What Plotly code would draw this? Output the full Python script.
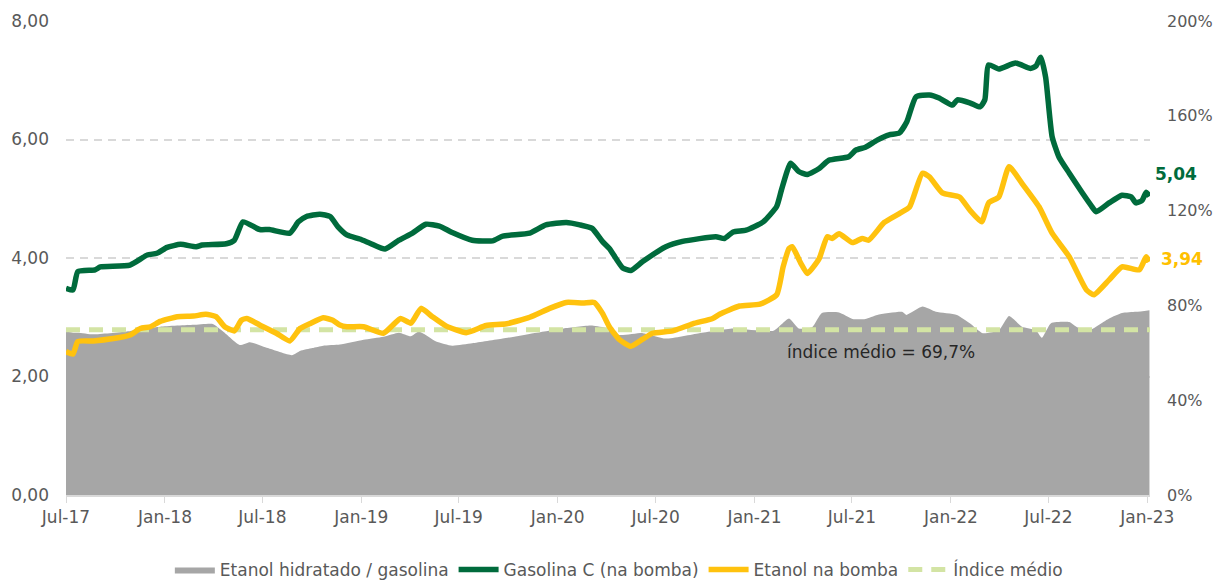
import plotly.graph_objects as go

# ---------------- data ----------------
gas_dates = ["2017-07-01","2017-07-14","2017-07-23","2017-08-24","2017-09-03","2017-10-28","2017-11-29",
 "2017-12-17","2018-01-05","2018-01-30","2018-02-28","2018-03-11","2018-04-25","2018-05-10","2018-05-26",
 "2018-06-26","2018-07-14","2018-08-21","2018-09-06","2018-09-21","2018-10-16","2018-11-04","2018-11-19",
 "2018-12-05","2018-12-29","2019-01-17","2019-02-14","2019-03-12","2019-04-06","2019-05-01","2019-05-26",
 "2019-06-19","2019-07-26","2019-09-02","2019-09-21","2019-11-10","2019-12-10","2020-01-17","2020-02-11",
 "2020-03-05","2020-03-24","2020-04-06","2020-05-01","2020-05-16","2020-06-07","2020-07-20","2020-08-20",
 "2020-10-21","2020-11-06","2020-11-22","2020-12-16","2021-01-17","2021-02-11","2021-02-20","2021-03-09",
 "2021-03-24","2021-04-09","2021-05-01","2021-05-19","2021-06-25","2021-07-08","2021-07-26","2021-08-17",
 "2021-09-08","2021-09-27","2021-10-11","2021-10-28","2021-11-22","2021-12-10","2022-01-04","2022-01-13",
 "2022-02-05","2022-02-24","2022-03-05","2022-03-12","2022-03-31","2022-05-01","2022-05-29","2022-06-08",
 "2022-06-17","2022-06-26","2022-07-08","2022-07-21","2022-08-09","2022-09-02","2022-09-19","2022-09-28",
 "2022-10-22","2022-11-15","2022-12-02","2022-12-11","2022-12-22","2022-12-30","2023-01-05"]
gasolina = [3.49,3.46,3.77,3.80,3.85,3.88,4.05,
 4.08,4.18,4.23,4.19,4.22,4.24,4.30,4.61,
 4.48,4.48,4.42,4.61,4.70,4.74,4.70,4.52,
 4.39,4.32,4.25,4.15,4.30,4.42,4.57,4.54,
 4.43,4.30,4.29,4.37,4.42,4.56,4.60,4.56,
 4.50,4.28,4.16,3.83,3.79,3.94,4.19,4.28,
 4.36,4.33,4.44,4.47,4.61,4.87,5.15,5.60,
 5.46,5.41,5.51,5.65,5.71,5.82,5.87,5.99,
 6.08,6.11,6.30,6.72,6.75,6.70,6.58,6.67,
 6.62,6.55,6.67,7.26,7.19,7.29,7.20,7.24,
 7.39,7.05,6.05,5.70,5.43,5.10,4.88,4.78,
 4.93,5.06,5.03,4.93,4.97,5.11,5.04]

eta_dates = ["2017-07-01","2017-07-14","2017-07-23","2017-08-21","2017-09-27","2017-10-28","2017-11-16",
 "2017-12-05","2017-12-23","2018-01-24","2018-02-23","2018-03-18","2018-04-06","2018-04-22","2018-05-10",
 "2018-05-23","2018-06-02","2018-06-26","2018-07-27","2018-08-21","2018-09-09","2018-09-27","2018-10-22",
 "2018-11-09","2018-11-22","2018-12-05","2019-01-05","2019-02-11","2019-03-01","2019-03-15","2019-04-03",
 "2019-04-22","2019-05-13","2019-06-08","2019-07-15","2019-08-21","2019-09-28","2019-11-10","2019-12-17",
 "2020-01-17","2020-02-17","2020-03-09","2020-03-24","2020-04-06","2020-04-25","2020-05-16","2020-06-07",
 "2020-06-25","2020-08-02","2020-09-08","2020-10-15","2020-10-28","2020-12-04","2021-01-11","2021-02-11",
 "2021-02-23","2021-03-06","2021-03-12","2021-03-28","2021-04-09","2021-05-01","2021-05-16","2021-05-25",
 "2021-06-07","2021-07-02","2021-07-20","2021-08-01","2021-08-30","2021-09-27","2021-10-16","2021-11-09",
 "2021-11-22","2021-12-16","2022-01-17","2022-02-05","2022-02-27","2022-03-12","2022-03-31","2022-04-19",
 "2022-05-13","2022-06-14","2022-07-08","2022-08-09","2022-09-10","2022-09-24","2022-10-22","2022-11-15",
 "2022-12-17","2022-12-30","2023-01-05"]
etanol = [2.42,2.38,2.59,2.60,2.64,2.70,2.81,
 2.84,2.93,3.01,3.02,3.05,3.01,2.84,2.77,
 2.95,2.98,2.87,2.73,2.60,2.81,2.89,2.99,
 2.95,2.87,2.84,2.84,2.73,2.87,2.98,2.90,
 3.15,3.01,2.85,2.74,2.86,2.89,3.00,3.15,
 3.25,3.24,3.25,3.07,2.84,2.62,2.51,2.63,
 2.73,2.77,2.89,2.98,3.05,3.19,3.22,3.38,
 3.85,4.16,4.19,3.91,3.74,3.99,4.36,4.33,
 4.41,4.26,4.33,4.30,4.60,4.75,4.86,5.43,
 5.37,5.10,5.03,4.81,4.61,4.93,5.03,5.54,
 5.26,4.86,4.42,4.02,3.46,3.38,3.63,3.85,
 3.80,4.02,3.94]

ratio_dates = ["2017-07-01","2017-07-14","2017-07-23","2017-08-21","2017-10-22","2017-12-23","2018-02-23",
 "2018-03-31","2018-04-19","2018-05-20","2018-06-08","2018-07-11","2018-08-25","2018-09-09","2018-10-02",
 "2018-10-22","2018-11-22","2019-01-05","2019-02-11","2019-03-12","2019-04-03","2019-04-18","2019-05-20",
 "2019-06-19","2019-07-26","2019-09-21","2019-11-23","2020-01-12","2020-03-05","2020-04-02","2020-04-25",
 "2020-06-07","2020-07-20","2020-09-20","2020-11-22","2021-02-05","2021-03-06","2021-03-24","2021-04-18",
 "2021-05-06","2021-06-07","2021-07-02","2021-07-26","2021-08-17","2021-10-02","2021-10-10","2021-11-09",
 "2021-12-04","2022-01-12","2022-02-05","2022-03-01","2022-03-31","2022-04-19","2022-05-13","2022-06-08",
 "2022-06-19","2022-07-06","2022-08-09","2022-08-22","2022-09-15","2022-10-22","2022-11-15","2022-12-11",
 "2023-01-05"]
ratio_pct = [69.0,68.5,68.5,67.8,69.0,71.0,71.8,
 72.2,69.0,63.3,64.5,62.0,59.0,60.8,62.0,
 63.0,63.5,65.5,66.8,68.5,67.0,69.0,64.8,
 63.0,64.0,66.0,68.5,70.3,71.5,70.3,67.5,
 68.3,66.0,68.3,70.3,69.3,74.5,70.3,70.8,
 76.8,77.0,74.3,74.3,76.0,77.3,76.0,79.5,
 77.3,76.0,72.5,68.3,69.5,75.5,71.0,69.5,
 66.3,72.5,73.0,71.0,69.5,74.5,76.8,77.3,
 78.0]

indice_medio = 69.7
x_range = ["2017-07-01", "2023-01-06"]
tick_dates = ["2017-07-01","2018-01-01","2018-07-01","2019-01-01","2019-07-01","2020-01-01",
              "2020-07-01","2021-01-01","2021-07-01","2022-01-01","2022-07-01","2023-01-01"]
left_ticks = [0, 2, 4, 6, 8]
left_text = ["0,00", "2,00", "4,00", "6,00", "8,00"]
right_ticks = [0, 40, 80, 120, 160, 200]
right_text = ["0%", "40%", "80%", "120%", "160%", "200%"]

# ---------------- style ----------------
FONT = "DejaVu Sans"
TXT = "#595959"
GREEN = "#006B3C"
YELLOW = "#FFC20E"
GRAY = "#A6A6A6"
LIGHTGREEN = "#D3E4A4"

fig = go.Figure()

fig.add_trace(go.Scatter(
    x=ratio_dates, y=ratio_pct, name="Etanol hidratado / gasolina",
    mode="lines", fill="tozeroy", fillcolor=GRAY, line=dict(color=GRAY, width=0, shape="spline", smoothing=0.5),
    yaxis="y", hoverinfo="skip"))

fig.add_trace(go.Scatter(
    x=gas_dates, y=gasolina, name="Gasolina C (na bomba)", mode="lines",
    line=dict(color=GREEN, width=5.5, shape="spline", smoothing=0.5), yaxis="y2"))

fig.add_trace(go.Scatter(
    x=eta_dates, y=etanol, name="Etanol na bomba", mode="lines",
    line=dict(color=YELLOW, width=5.5, shape="spline", smoothing=0.5), yaxis="y2"))

fig.add_trace(go.Scatter(
    x=x_range, y=[indice_medio, indice_medio], name="Índice médio", mode="lines",
    line=dict(color=LIGHTGREEN, width=5, dash="14px,9px"), yaxis="y"))

fig.update_layout(
    width=1216, height=583,
    paper_bgcolor="white", plot_bgcolor="white",
    margin=dict(l=66, r=66, t=21, b=88, autoexpand=False),
    font=dict(family=FONT, size=17, color=TXT),
    showlegend=True,
    legend=dict(orientation="h", x=0.51, xanchor="center", y=-0.158, yanchor="middle",
                font=dict(family=FONT, size=17, color=TXT), itemwidth=40, traceorder="normal"),
    xaxis=dict(type="date", range=x_range, tickvals=tick_dates, tickformat="%b-%y",
               showgrid=False, showline=True, linecolor="#D9D9D9", linewidth=2,
               ticks="outside", tickcolor="#D9D9D9", ticklen=6, tickwidth=1,
               tickfont=dict(size=17, color=TXT), zeroline=False, automargin=False),
    yaxis=dict(range=[0, 200], side="right", tickvals=right_ticks, ticktext=right_text,
               showgrid=False, zeroline=False, showline=False, ticks="",
               tickfont=dict(size=16, color=TXT), ticklabelstandoff=16, automargin=False),
    yaxis2=dict(range=[0, 8], side="left", overlaying="y", tickvals=left_ticks, ticktext=left_text,
                showgrid=True, gridcolor="#D9D9D9", gridwidth=2, griddash="8px,6px",
                zeroline=False, showline=False, ticks="",
                tickfont=dict(size=17, color=TXT), ticklabelstandoff=16, automargin=False),
)

# end labels
fig.add_annotation(x=gas_dates[-1], y=gasolina[-1], yref="y2", text="<b>5,04</b>",
                   showarrow=False, xanchor="left", yanchor="middle", xshift=4, yshift=22,
                   font=dict(family=FONT, size=17, color=GREEN))
fig.add_annotation(x=eta_dates[-1], y=etanol[-1], yref="y2", text="<b>3,94</b>",
                   showarrow=False, xanchor="left", yanchor="middle", xshift=10, yshift=3,
                   font=dict(family=FONT, size=17, color="#FFC000"))
fig.add_annotation(x=0.752, xref="paper", y=60.3, yref="y", text="índice médio = 69,7%",
                   showarrow=False, xanchor="center", yanchor="middle",
                   font=dict(family=FONT, size=17, color="#262626"))

fig.write_html("out.html", config={"displayModeBar": False},
               post_script="document.body.style.margin='0';document.body.style.overflow='hidden';")
